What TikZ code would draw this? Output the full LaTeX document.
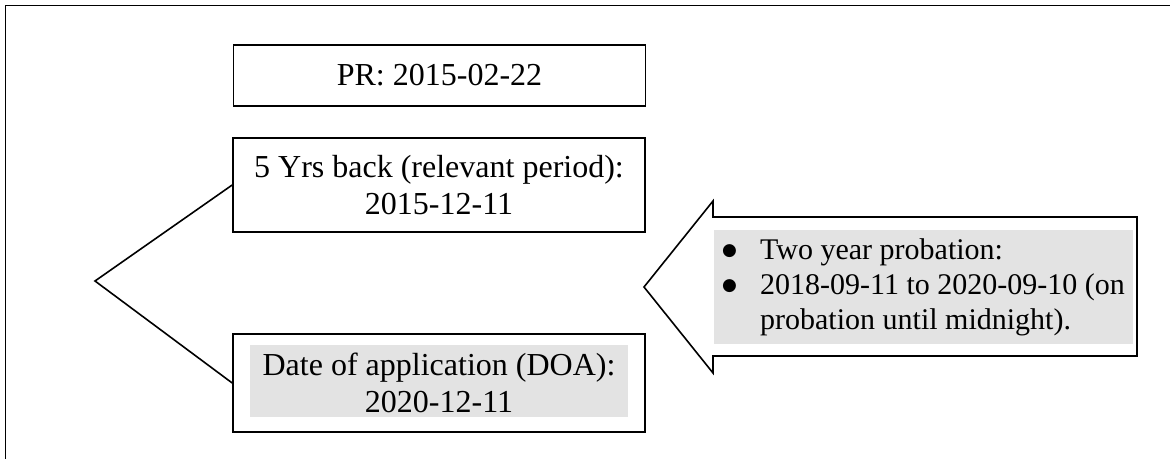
\documentclass[tikz,border=0pt]{standalone}
\usepackage{fontspec}
\setmainfont{Liberation Serif}
\newfontfamily\symfont{DejaVu Sans}
\usepackage{tikz}
\usetikzlibrary{positioning,calc}
\definecolor{dotgrey}{gray}{0.89}
\newcommand\boxfont{\fontsize{16}{18.4}\selectfont}
\newcommand\probfont{\fontsize{15}{17.5}\selectfont}
\newlength\bulw
\setlength\bulw{19pt}
\newcommand\bul{\makebox[\bulw][l]{\raisebox{1.6pt}{\symfont\fontsize{8.5}{10}\selectfont ●}}}
\tikzset{
  box/.style={draw,line width=0.8pt,minimum width=206pt,align=center,font=\boxfont,inner sep=0pt},
  shadebox/.style={fill=dotgrey,align=left,font=\probfont,inner sep=0pt,minimum width=209.5pt,minimum height=57pt},
  edge/.style={line width=0.8pt,line join=miter}
}
\begin{document}
\begin{tikzpicture}[x=0.5pt,y=-0.5pt]
\useasboundingbox (0,0) rectangle (1170,459);
\draw[edge] (1170,5.5) -- (5.5,5.5) -- (5.5,459);
\fill[dotgrey] (250,345) rectangle (628,417);
\node[box,minimum height=30.5pt](pr)at(439.5,75.5){PR: 2015-02-22};
\node[box,minimum height=47pt](back)at(439,185){5 Yrs back (relevant period):\\2015-12-11};
\node[box,minimum height=49pt](doa)at(439,383){Date of application (DOA):\\2020-12-11};
\coordinate (apex) at (95,281);
\draw[edge] (back.west) -- (apex) -- (doa.west);
\draw[edge] (1137,217) -- (713,217) -- (713,201) -- (644,287) -- (713,373) -- (713,356) -- (1137,356) -- cycle;
\node[shadebox](prob)at(923.5,287){\bul Two year probation:\\\bul 2018-09-11 to 2020-09-10 (on\\\hspace*{\bulw}probation until midnight).};
\end{tikzpicture}
\end{document}
